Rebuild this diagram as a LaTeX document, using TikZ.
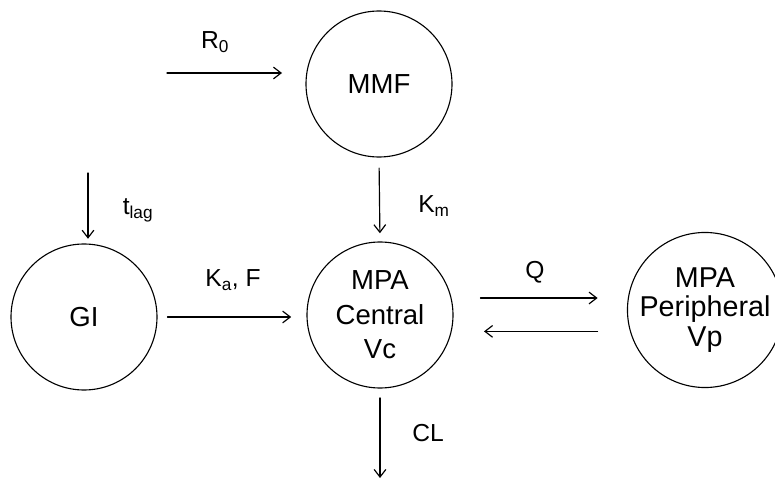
\documentclass[tikz,border=0pt]{standalone}
\usepackage{fontspec}
\setmainfont{Liberation Sans}
\usetikzlibrary{arrows.meta}
\tikzset{
  comp/.style={draw, circle, line width=0.95pt, minimum size=4.38cm, inner sep=0pt, align=center, font=\fontsize{23.5}{29.5}\selectfont},
  flow/.style={->, line width=1pt},
  lbl/.style={font=\fontsize{21}{25}\selectfont}
}
\begin{document}
\begin{tikzpicture}[x=0.03cm, y=-0.03cm, line cap=round, line join=round, >={Straight Barb[length=6.5pt,width=10pt]}]
\useasboundingbox (0,0) rectangle (775,481);
% compartments
\node[comp] (mmf) at (379,84) {MMF};
\node[comp] (central) at (380,315) {MPA\\Central\\Vc};
\node[comp] (gi) at (84,317) {GI};
\node[comp, font=\fontsize{24.5}{25}\selectfont] (peri) at (705,310) {MPA\\Peripheral\\Vp};
% free ends
\coordinate (r0start) at (167,73);
\coordinate (tlagstart) at (88,173);
\coordinate (clend) at (380,478);
\coordinate (qtop) at ([yshift=14.5pt]central.east);
\coordinate (qbot) at ([yshift=-14pt]central.east);
% connectors
\draw[flow, shorten >=20pt] (r0start) -- (r0start -| mmf.west);
\draw[flow, shorten <=9pt, shorten >=7pt] (mmf.south) -- (central.north);
\draw[flow, shorten >=4pt] (tlagstart) -- (tlagstart |- gi.north);
\draw[flow, shorten <=8.5pt, shorten >=13pt] (gi.east) -- (gi.east -| central.west);
\draw[flow, shorten <=23pt, shorten >=25pt] (qtop) -- (qtop -| peri.west);
\draw[flow, shorten <=25pt, shorten >=26pt] (qbot -| peri.west) -- (qbot);
\draw[flow, shorten <=8pt] (central.south) -- (clend);
% labels
\node[lbl] (r0) at (215,42) {R\textsubscript{0}};
\node[lbl] (km) at (434,206) {K\textsubscript{m}};
\node[lbl] (tlag) at (138,210) {t\textsubscript{lag}};
\node[lbl] (kaf) at (233,280) {K\textsubscript{a}, F};
\node[lbl] (q) at (535,272) {Q};
\node[lbl] (cl) at (428,433) {CL};
\end{tikzpicture}
\end{document}
